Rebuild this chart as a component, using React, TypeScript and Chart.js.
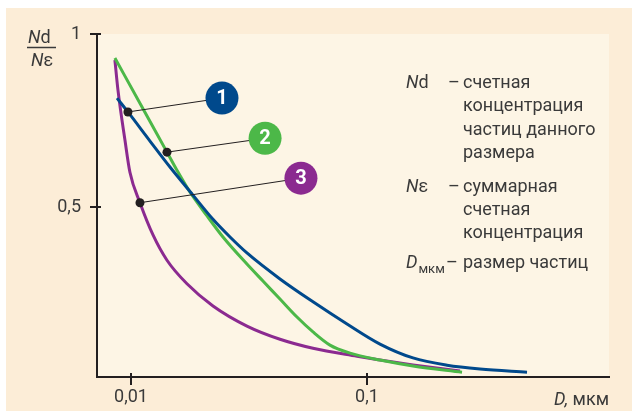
import React, { useEffect, useRef } from 'react';
import { Chart, registerables } from 'chart.js';

Chart.register(...registerables);

// ---- data ----
const blueX = [0.00873, 0.00971, 0.01204, 0.01463, 0.01831, 0.02226, 0.02628, 0.031, 0.04279, 0.05905, 0.08228, 0.1135, 0.1566, 0.2183, 0.3012, 0.4764];
const blueY = [0.815, 0.775, 0.691, 0.616, 0.535, 0.465, 0.414, 0.368, 0.293, 0.227, 0.163, 0.105, 0.065, 0.044, 0.033, 0.024];

const greenX = [0.00855, 0.01102, 0.01421, 0.01566, 0.01778, 0.02101, 0.02454, 0.031, 0.03624, 0.04279, 0.05051, 0.05905, 0.0697, 0.08472, 0.1135, 0.1566, 0.2527];
const greenY = [0.931, 0.795, 0.659, 0.607, 0.544, 0.475, 0.414, 0.336, 0.287, 0.235, 0.183, 0.14, 0.102, 0.079, 0.059, 0.042, 0.024];

const purpleX = [0.00855, 0.00881, 0.00943, 0.0099, 0.01092, 0.0124, 0.01421, 0.01727, 0.02226, 0.031, 0.04279, 0.05905, 0.09071, 0.1135, 0.1566, 0.2478];
const purpleY = [0.925, 0.838, 0.694, 0.601, 0.513, 0.42, 0.347, 0.279, 0.215, 0.157, 0.119, 0.093, 0.07, 0.059, 0.045, 0.027];

const markerX = [0.00971, 0.01421, 0.01092];
const markerY = [0.775, 0.659, 0.513];

const badgeX = [0.0243, 0.037, 0.0525];
const badgeY = [0.815, 0.699, 0.584];
const badgeLabels = ['1', '2', '3'];

const xTickValues = [0.01, 0.1];
const xTickLabels = ['0,01', '0,1'];
const yTickValues = [0.5, 1];
const yTickLabels = ['0,5', '1'];

// ---- styles ----
const BLUE = '#00498c';
const GREEN = '#4cb848';
const PURPLE = '#8b2a90';
const badgeColors = [BLUE, GREEN, PURPLE];
const AXIS = '#231f20';
const TEXT = '#3a3a3a';
const OUTER = '#fcedd7';
const INNER = '#fdf5e5';
const FAMILY = 'Roboto, "Open Sans", sans-serif';

const pts = (xs: number[], ys: number[]) => xs.map((x, i) => ({ x, y: ys[i] }));

function run(ctx: CanvasRenderingContext2D, parts: [string, string][], x: number, y: number) {
  let cx = x;
  for (const [t, f] of parts) {
    ctx.font = f;
    ctx.fillText(t, cx, y);
    cx += ctx.measureText(t).width;
  }
  return cx;
}

export default function App() {
  const ref = useRef<HTMLCanvasElement>(null);

  useEffect(() => {
    document.body.style.margin = '0';
    const canvas = ref.current;
    if (!canvas) return;

    const bgPlugin = {
      id: 'bg',
      beforeDraw(chart: any) {
        const { ctx, chartArea: a } = chart;
        ctx.save();
        ctx.fillStyle = '#ffffff';
        ctx.fillRect(0, 0, chart.width, chart.height);
        ctx.fillStyle = OUTER;
        ctx.fillRect(6, 8, chart.width - 6, chart.height - 8);
        ctx.fillStyle = INNER;
        ctx.fillRect(a.left, a.top, a.right - a.left, a.bottom - a.top);
        ctx.restore();
      },
    };

    const innerTicks = {
      id: 'innerTicks',
      beforeDatasetsDraw(chart: any) {
        const { ctx, chartArea: a, scales } = chart;
        ctx.save();
        ctx.strokeStyle = AXIS;
        ctx.lineWidth = 2;
        ctx.beginPath();
        xTickValues.forEach((v) => {
          const px = Math.round(scales.x.getPixelForValue(v));
          ctx.moveTo(px, a.bottom);
          ctx.lineTo(px, a.bottom - 4);
        });
        yTickValues.forEach((v) => {
          const py = Math.round(scales.y.getPixelForValue(v));
          ctx.moveTo(a.left, py);
          ctx.lineTo(a.left + 4, py);
        });
        ctx.stroke();
        ctx.restore();
      },
    };

    const callouts = {
      id: 'callouts',
      afterDatasetsDraw(chart: any) {
        const { ctx, scales } = chart;
        ctx.save();
        ctx.strokeStyle = '#231f20';
        ctx.lineWidth = 1;
        markerX.forEach((mx, i) => {
          ctx.beginPath();
          ctx.moveTo(scales.x.getPixelForValue(mx), scales.y.getPixelForValue(markerY[i]));
          ctx.lineTo(scales.x.getPixelForValue(badgeX[i]), scales.y.getPixelForValue(badgeY[i]));
          ctx.stroke();
        });
        badgeX.forEach((bx, i) => {
          const cx = scales.x.getPixelForValue(bx);
          const cy = scales.y.getPixelForValue(badgeY[i]);
          ctx.beginPath();
          ctx.arc(cx, cy, 16.5, 0, Math.PI * 2);
          ctx.fillStyle = badgeColors[i];
          ctx.fill();
          ctx.fillStyle = '#ffffff';
          ctx.font = `bold 20px ${FAMILY}`;
          ctx.textAlign = 'center';
          ctx.textBaseline = 'middle';
          ctx.fillText(badgeLabels[i], cx, cy + 1);
        });
        ctx.restore();
      },
    };

    const texts = {
      id: 'texts',
      afterDraw(chart: any) {
        const { ctx } = chart;
        ctx.save();
        ctx.fillStyle = TEXT;
        ctx.textBaseline = 'alphabetic';
        ctx.textAlign = 'left';
        const reg = `18px ${FAMILY}`;
        const ital = `italic 18px ${FAMILY}`;
        const sub = `13px ${FAMILY}`;

        // y-axis fraction title
        run(ctx, [['N', ital], ['d', reg]], 28, 43);
        run(ctx, [['N', ital], ['ε', reg]], 31, 66);
        ctx.strokeStyle = TEXT;
        ctx.lineWidth = 1.5;
        ctx.beginPath();
        ctx.moveTo(27, 47.5);
        ctx.lineTo(56, 47.5);
        ctx.stroke();

        // x-axis title
        ctx.font = ital;
        const w1 = ctx.measureText('D,').width;
        ctx.font = reg;
        const w2 = ctx.measureText(' мкм').width;
        run(ctx, [['D,', ital], [' мкм', reg]], 609 - w1 - w2, 405);

        // right-side legend
        const termX = 406;
        const dashX = 448;
        const descX = 463;
        run(ctx, [['N', ital], ['d', reg]], termX, 88);
        ctx.font = reg;
        ctx.fillText('–', dashX, 88);
        ['счетная', 'концентрация', 'частиц данного', 'размера'].forEach((t, i) => {
          ctx.fillText(t, descX, [88, 111, 135, 158][i]);
        });
        run(ctx, [['N', ital], ['ε', reg]], termX, 192);
        ctx.font = reg;
        ctx.fillText('–', dashX, 192);
        ['суммарная', 'счетная', 'концентрация'].forEach((t, i) => {
          ctx.fillText(t, descX, [192, 215, 238][i]);
        });
        ctx.font = ital;
        ctx.fillText('D', termX, 268);
        const dw = ctx.measureText('D').width;
        ctx.font = sub;
        ctx.fillText('мкм', termX + dw + 1, 273);
        ctx.font = reg;
        ctx.fillText('–', 446, 268);
        ctx.fillText('размер частиц', descX, 268);
        ctx.restore();
      },
    };

    const lineDs = (data: any, color: string) => ({
      type: 'line' as const,
      data,
      borderColor: color,
      borderWidth: 3,
      pointRadius: 0,
      fill: false,
      cubicInterpolationMode: 'monotone' as const,
      borderCapStyle: 'butt' as const,
    });

    const chart = new Chart(canvas, {
      type: 'line',
      data: {
        datasets: [
          {
            type: 'line',
            data: pts(markerX, markerY),
            showLine: false,
            pointRadius: 4.5,
            pointBackgroundColor: '#231f20',
            pointBorderWidth: 0,
            borderColor: '#231f20',
          } as any,
          lineDs(pts(blueX, blueY), BLUE),
          lineDs(pts(greenX, greenY), GREEN),
          lineDs(pts(purpleX, purpleY), PURPLE),
        ],
      },
      options: {
        responsive: false,
        animation: false,
        events: [],
        layout: { padding: { top: 34, right: 23, bottom: 0, left: 0 } },
        plugins: { legend: { display: false }, tooltip: { enabled: false }, title: { display: false } },
        scales: {
          x: {
            type: 'logarithmic',
            min: 0.00718,
            max: 1.06,
            afterBuildTicks: (s: any) => { s.ticks = xTickValues.map((v) => ({ value: v })); },
            afterFit: (s: any) => { s.height = 34; },
            ticks: {
              autoSkip: false,
              maxRotation: 0,
              callback: (_v: any, i: number) => xTickLabels[i],
              font: { family: FAMILY, size: 18 },
              color: TEXT,
              padding: 2,
            },
            grid: { drawOnChartArea: false, color: AXIS, lineWidth: 2, tickLength: 8 },
            border: { color: AXIS, width: 2 },
          },
          y: {
            type: 'linear',
            min: 0.01,
            max: 1,
            afterBuildTicks: (s: any) => { s.ticks = yTickValues.map((v) => ({ value: v })); },
            afterFit: (s: any) => { s.width = 97; },
            ticks: {
              autoSkip: false,
              callback: (_v: any, i: number) => yTickLabels[i],
              font: { family: FAMILY, size: 18 },
              color: TEXT,
              padding: 9,
            },
            grid: { drawOnChartArea: false, color: AXIS, lineWidth: 2, tickLength: 7 },
            border: { color: AXIS, width: 2 },
          },
        },
      },
      plugins: [bgPlugin, innerTicks, callouts, texts],
    } as any);

    return () => chart.destroy();
  }, []);

  return (
    <div style={{ width: 632, height: 411, position: 'relative' }}>
      <canvas ref={ref} width={632} height={411} style={{ display: 'block', width: 632, height: 411 }} />
    </div>
  );
}
